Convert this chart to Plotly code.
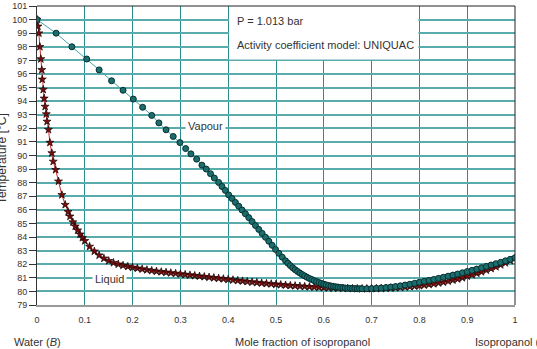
import plotly.graph_objects as go

# ---- data (T in °C) ----
liq_x = [0.000, 0.002, 0.004, 0.006, 0.008, 0.010, 0.011, 0.013, 0.015, 0.017, 0.0195,
         0.021, 0.024, 0.027, 0.031, 0.034, 0.039, 0.045, 0.052, 0.059, 0.065, 0.069,
         0.075, 0.080, 0.085, 0.090, 0.095,
         0.10, 0.11, 0.12, 0.13, 0.14, 0.15, 0.16, 0.17, 0.18, 0.19,
         0.20, 0.21, 0.22, 0.23, 0.24, 0.25, 0.26, 0.27, 0.28, 0.29,
         0.30, 0.31, 0.32, 0.33, 0.34, 0.35, 0.36, 0.37, 0.38, 0.39,
         0.40, 0.41, 0.42, 0.43, 0.44, 0.45, 0.46, 0.47, 0.48, 0.49,
         0.50, 0.51, 0.52, 0.53, 0.54, 0.55, 0.56, 0.57, 0.58, 0.59,
         0.60, 0.61, 0.62, 0.63, 0.64, 0.65, 0.66, 0.67, 0.68, 0.69,
         0.70, 0.71, 0.72, 0.73, 0.74, 0.75, 0.76, 0.77, 0.78, 0.79,
         0.80, 0.81, 0.82, 0.83, 0.84, 0.85, 0.86, 0.87, 0.88, 0.89,
         0.90, 0.91, 0.92, 0.93, 0.94, 0.95, 0.96, 0.97, 0.98, 0.99, 1.00]
liq_T = [100.0, 99.5, 99.0, 98.0, 97.1, 96.3, 95.6, 94.85, 94.2, 93.6, 93.05,
         92.5, 91.9, 90.95, 90.18, 89.56, 88.95, 88.1, 87.1, 86.38, 85.85, 85.52,
         85.1, 84.79, 84.5, 84.2, 83.95,
         83.72, 83.30, 82.95, 82.66, 82.43, 82.25, 82.11, 82.00, 81.91, 81.83,
         81.76, 81.70, 81.64, 81.58, 81.53, 81.48, 81.44, 81.40, 81.36, 81.32,
         81.28, 81.24, 81.20, 81.16, 81.12, 81.08, 81.04, 81.00, 80.96, 80.92,
         80.88, 80.84, 80.80, 80.76, 80.72, 80.68, 80.65, 80.61, 80.58, 80.55,
         80.52, 80.49, 80.46, 80.43, 80.41, 80.38, 80.36, 80.34, 80.32, 80.30,
         80.28, 80.26, 80.25, 80.24, 80.23, 80.22, 80.21, 80.20, 80.20, 80.20,
         80.20, 80.21, 80.22, 80.23, 80.25, 80.27, 80.29, 80.32, 80.35, 80.38,
         80.42, 80.46, 80.51, 80.56, 80.62, 80.68, 80.75, 80.83, 80.91, 81.00,
         81.12, 81.22, 81.33, 81.44, 81.56, 81.68, 81.81, 81.95, 82.10, 82.27, 82.45]

vap_x = [0.000, 0.040, 0.073, 0.104, 0.130, 0.156, 0.180, 0.2015, 0.221, 0.240,
         0.255, 0.270, 0.285, 0.299, 0.311, 0.322, 0.334, 0.345, 0.354, 0.363,
         0.371, 0.380, 0.387, 0.394, 0.401, 0.408, 0.415, 0.422, 0.429, 0.436,
         0.443, 0.450, 0.457, 0.464, 0.471, 0.478, 0.485, 0.492, 0.499, 0.506,
         0.513, 0.520, 0.525, 0.530, 0.535, 0.540, 0.545, 0.550, 0.555, 0.560,
         0.565, 0.570, 0.575, 0.580, 0.585, 0.590, 0.595, 0.600, 0.605, 0.610,
         0.615, 0.620, 0.625, 0.630, 0.635, 0.640, 0.645, 0.650, 0.655, 0.660,
         0.665, 0.670, 0.675, 0.680,
         0.69, 0.70, 0.71, 0.72, 0.73, 0.74, 0.75, 0.76, 0.77, 0.78, 0.79,
         0.80, 0.81, 0.82, 0.83, 0.84, 0.85, 0.86, 0.87, 0.88, 0.89,
         0.90, 0.91, 0.92, 0.93, 0.94, 0.95, 0.96, 0.97, 0.98, 0.99, 1.00]
vap_T = [100.0, 99.0, 98.0, 97.1, 96.3, 95.5, 94.8, 94.15, 93.55, 92.95,
         92.4, 91.89, 91.4, 90.95, 90.51, 90.12, 89.73, 89.29, 89.0, 88.66,
         88.34, 88.02, 87.72, 87.43, 87.1, 86.84, 86.55, 86.27, 85.99, 85.71,
         85.43, 85.14, 84.85, 84.56, 84.27, 83.98, 83.69, 83.39, 83.09, 82.80,
         82.52, 82.25, 82.07, 81.90, 81.74, 81.60, 81.47, 81.35, 81.24, 81.14,
         81.04, 80.95, 80.87, 80.79, 80.72, 80.65, 80.59, 80.53, 80.48, 80.44,
         80.40, 80.37, 80.34, 80.31, 80.29, 80.27, 80.25, 80.24, 80.23, 80.22,
         80.21, 80.20, 80.20, 80.20,
         80.20, 80.21, 80.23, 80.25, 80.28, 80.32, 80.36, 80.41, 80.47, 80.53, 80.60,
         80.67, 80.74, 80.81, 80.88, 80.96, 81.04, 81.12, 81.20, 81.28, 81.37,
         81.46, 81.55, 81.64, 81.74, 81.84, 81.94, 82.04, 82.14, 82.25, 82.36, 82.47]

y_ticks = list(range(79, 102))
x_ticks = [0, 0.1, 0.2, 0.3, 0.4, 0.5, 0.6, 0.7, 0.8, 0.9, 1]
x_ticklabels = ["0", "0.1", "0.2", "0.3", "0.4", "0.5", "0.6", "0.7", "0.8", "0.9", "1"]

FONT = "Liberation Sans, Arial, sans-serif"
TXT = "#333333"

fig = go.Figure()

fig.add_trace(go.Scatter(
    x=liq_x, y=liq_T, mode="lines+markers", name="Liquid",
    line=dict(color="#c83030", width=1),
    marker=dict(symbol="star", size=6, color="#7a0c0c",
                line=dict(color="#1a0000", width=0.7)),
    showlegend=False, hoverinfo="skip"))

fig.add_trace(go.Scatter(
    x=vap_x, y=vap_T, mode="lines+markers", name="Vapour",
    line=dict(color="#45a3a3", width=1),
    marker=dict(symbol="circle", size=6, color="#1b6e6e",
                line=dict(color="#082e2e", width=1)),
    showlegend=False, hoverinfo="skip"))

fig.update_layout(
    width=537, height=349,
    margin=dict(l=37, r=22, t=6, b=44),
    paper_bgcolor="white", plot_bgcolor="white",
    font=dict(family=FONT, size=9, color=TXT),
    template="none",
    xaxis=dict(range=[0, 1], tickvals=x_ticks, ticktext=x_ticklabels,
               showgrid=True, gridcolor="#2a8c8c", gridwidth=1,
               zeroline=False, showline=True, linecolor="#9a9a9a", linewidth=2,
               ticks="outside", ticklen=5, tickcolor="rgba(0,0,0,0)",
               tickfont=dict(size=9, color=TXT), automargin=False),
    yaxis=dict(range=[79, 101], tickvals=y_ticks,
               showgrid=True, gridcolor="#5aabab", gridwidth=1.5,
               zeroline=False, showline=True, linecolor="#333333", linewidth=1,
               ticks="outside", ticklen=7, tickcolor="#333333",
               tickfont=dict(size=9, color=TXT), automargin=False),
)

# white info box over the grid (edges keep grid lines visible)
fig.add_shape(type="rect", xref="x", yref="y", x0=0.402, x1=0.798, y0=97.06, y1=101,
              fillcolor="white", line=dict(width=0), layer="above")
# top and right frame
fig.add_shape(type="line", xref="paper", yref="paper", x0=0, x1=1, y0=1, y1=1,
              line=dict(color="#222222", width=1), layer="above")
fig.add_shape(type="line", xref="paper", yref="paper", x0=1, x1=1, y0=0, y1=1,
              line=dict(color="#222222", width=1), layer="above")

ann = dict(font=dict(family=FONT, size=11, color=TXT), showarrow=False)
fig.add_annotation(x=0.414, y=99.9, xref="x", yref="y", text="P = 1.013 bar",
                   xanchor="left", yanchor="middle", **ann)
fig.add_annotation(x=0.414, y=98.1, xref="x", yref="y",
                   text="Activity coefficient model: UNIQUAC",
                   xanchor="left", yanchor="middle", **ann)
fig.add_annotation(x=0.352, y=92.2, xref="x", yref="y", text="Vapour",
                   bgcolor="white", borderpad=2, **ann)
fig.add_annotation(x=0.151, y=80.95, xref="x", yref="y", text="Liquid",
                   bgcolor="white", borderpad=2, **ann)

fig.add_annotation(x=0.0, y=-0.124, xref="paper", yref="paper", text="Water (<i>B</i>)",
                   xanchor="center", yanchor="middle", **ann)
fig.add_annotation(x=0.41, y=-0.124, xref="paper", yref="paper",
                   text="Mole fraction of isopropanol", xanchor="left", yanchor="middle", **ann)
fig.add_annotation(x=0.9116, y=-0.124, xref="paper", yref="paper",
                   text="Isopropanol (<i>A</i>)", xanchor="left", yanchor="middle", **ann)
fig.add_annotation(x=-0.072, y=0.49, xref="paper", yref="paper",
                   text="Temperature [°C]", textangle=-90,
                   xanchor="center", yanchor="middle",
                   font=dict(family=FONT, size=12, color=TXT), showarrow=False)

fig.write_html("out.html")
